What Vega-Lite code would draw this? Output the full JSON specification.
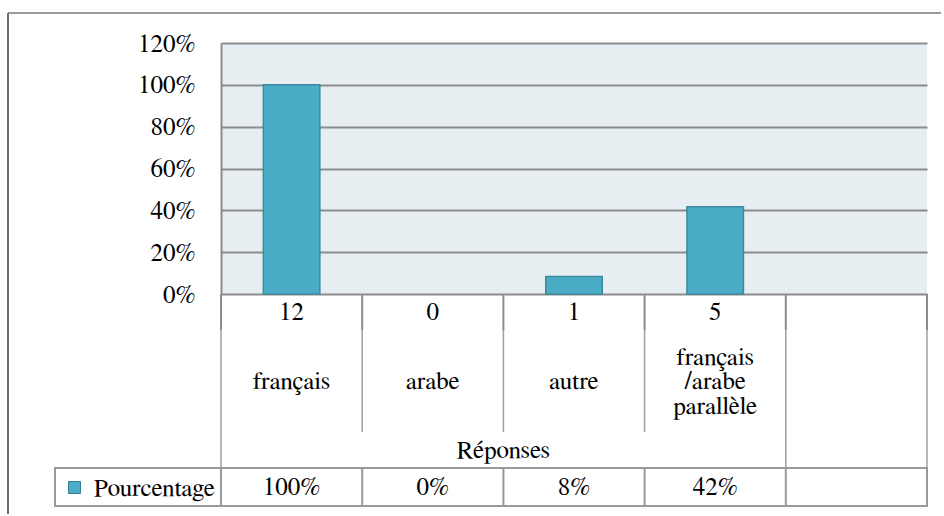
{
  "$schema": "https://vega.github.io/schema/vega-lite/v6.json",
  "padding": {"left": 7, "top": 12, "right": 0, "bottom": 0},
  "background": "white",
  "config": {
    "view": {"stroke": null},
    "font": "FreeSerif",
    "text": {"font": "FreeSerif", "fontSize": 25, "fill": "black"}
  },
  "datasets": {
    "reponses": [
      {"reponse": "français", "n": 12, "pct": 1},
      {"reponse": "arabe", "n": 0, "pct": 0},
      {"reponse": "autre", "n": 1, "pct": 0.0833},
      {"reponse": "français\n/arabe\nparallèle", "n": 5, "pct": 0.4167}
    ]
  },
  "columns": 3,
  "spacing": 0,
  "bounds": "flush",
  "align": "each",
  "resolve": {"scale": {"color": "independent"}, "legend": {"color": "independent"}},
  "concat": [
    {
      "width": 47, "height": 30,
      "data": {"values": [{}]},
      "layer": [
        {"mark": {"type": "rule", "color": "#9a9a9a", "strokeWidth": 2},
         "encoding": {"y": {"datum": 1, "type": "quantitative", "scale": {"domain": [0, 1]}, "axis": null}}},
        {"mark": {"type": "rule", "color": "#6e6e6e", "strokeWidth": 2},
         "encoding": {"x": {"datum": 0, "type": "quantitative", "scale": {"domain": [0, 1]}, "axis": null}}}
      ]
    },
    {
      "width": 166, "height": 30,
      "data": {"values": [{}]},
      "mark": {"type": "rule", "color": "#9a9a9a", "strokeWidth": 2},
      "encoding": {"y": {"datum": 1, "type": "quantitative", "scale": {"domain": [0, 1]}, "axis": null}}
    },
    {
      "width": 720, "height": 30,
      "data": {"values": [{}]},
      "mark": {"type": "rule", "color": "#9a9a9a", "strokeWidth": 2},
      "encoding": {"y": {"datum": 1, "type": "quantitative", "scale": {"domain": [0, 1]}, "axis": null}}
    },

    {
      "width": 47, "height": 251,
      "data": {"values": [{}]},
      "mark": {"type": "rule", "color": "#6e6e6e", "strokeWidth": 2},
      "encoding": {"x": {"datum": 0, "type": "quantitative", "scale": {"domain": [0, 1]}, "axis": null}}
    },
    {"width": 166, "height": 251, "data": {"values": []}, "mark": "text", "encoding": {}},
    {
      "width": 706, "height": 251,
      "data": {"name": "reponses"},
      "transform": [{"filter": "datum.pct > 0"}],
      "view": {"fill": "#e7eef2"},
      "mark": {"type": "bar", "fill": "#4bacc6", "stroke": "#3a8aa0", "strokeWidth": 1.5},
      "encoding": {
        "x": {
          "field": "reponse", "type": "nominal", "sort": null,
          "scale": {"domain": ["français", "arabe", "autre", "français\n/arabe\nparallèle", "(vide)"], "paddingInner": 0.6, "paddingOuter": 0.3},
          "axis": null
        },
        "y": {
          "field": "pct", "type": "quantitative",
          "scale": {"domain": [0, 1.2], "nice": false},
          "axis": {
            "title": null,
            "values": [0, 0.2, 0.4, 0.6, 0.8, 1, 1.2],
            "format": ".0%",
            "grid": true,
            "gridColor": "#8c8c8c",
            "gridWidth": 2,
            "domain": true,
            "domainColor": "#8c8c8c",
            "domainWidth": 2,
            "ticks": false,
            "labelPadding": 26,
            "labelFont": "FreeSerif",
            "labelFontSize": 25,
            "labelColor": "black"
          }
        }
      }
    },

    {
      "width": 47, "height": 36,
      "data": {"values": [{}]},
      "mark": {"type": "rule", "color": "#6e6e6e", "strokeWidth": 2},
      "encoding": {"x": {"datum": 0, "type": "quantitative", "scale": {"domain": [0, 1]}, "axis": null}}
    },
    {"width": 166, "height": 36, "data": {"values": []}, "mark": "text", "encoding": {}},
    {
      "width": 706, "height": 36,
      "data": {"name": "reponses"},
      "layer": [
        {
          "mark": {"type": "text", "baseline": "middle", "fontSize": 25, "fill": "black", "font": "FreeSerif"},
          "encoding": {
            "x": {"field": "reponse", "type": "nominal", "sort": null,
                  "scale": {"domain": ["français", "arabe", "autre", "français\n/arabe\nparallèle", "(vide)"], "paddingInner": 0, "paddingOuter": 0},
                  "axis": null},
            "text": {"field": "n", "type": "quantitative"}
          }
        },
        {
          "mark": {"type": "rule", "color": "#8c8c8c", "strokeWidth": 2},
          "encoding": {"x": {"field": "reponse", "type": "nominal", "bandPosition": 0}}
        },
        {
          "data": {"values": [{}]},
          "mark": {"type": "rule", "color": "#8c8c8c", "strokeWidth": 2},
          "encoding": {"x": {"datum": "(vide)", "type": "nominal", "bandPosition": 0}}
        },
        {
          "data": {"values": [{}]},
          "mark": {"type": "rule", "color": "#8c8c8c", "strokeWidth": 2},
          "encoding": {"x": {"datum": "(vide)", "type": "nominal", "bandPosition": 1}}
        }
      ]
    },

    {
      "width": 47, "height": 102,
      "data": {"values": [{}]},
      "mark": {"type": "rule", "color": "#6e6e6e", "strokeWidth": 2},
      "encoding": {"x": {"datum": 0, "type": "quantitative", "scale": {"domain": [0, 1]}, "axis": null}}
    },
    {"width": 166, "height": 102, "data": {"values": []}, "mark": "text", "encoding": {}},
    {
      "width": 706, "height": 102,
      "data": {"name": "reponses"},
      "layer": [
        {
          "transform": [{"filter": "indexof(datum.reponse, '\\n') < 0"}],
          "mark": {"type": "text", "baseline": "middle", "fontSize": 25, "fill": "black", "font": "FreeSerif"},
          "encoding": {
            "x": {"field": "reponse", "type": "nominal", "sort": null,
                  "scale": {"domain": ["français", "arabe", "autre", "français\n/arabe\nparallèle", "(vide)"], "paddingInner": 0, "paddingOuter": 0},
                  "axis": null},
            "text": {"field": "reponse", "type": "nominal"}
          }
        },
        {
          "transform": [{"filter": "indexof(datum.reponse, '\\n') >= 0"}],
          "mark": {"type": "text", "baseline": "middle", "fontSize": 25, "fill": "black", "font": "FreeSerif", "lineBreak": "\n", "lineHeight": 24.5, "dy": -24.5},
          "encoding": {
            "x": {"field": "reponse", "type": "nominal", "sort": null},
            "text": {"field": "reponse", "type": "nominal"}
          }
        },
        {
          "mark": {"type": "rule", "color": "#a0a0a0", "strokeWidth": 1.5},
          "encoding": {"x": {"field": "reponse", "type": "nominal", "bandPosition": 0}}
        },
        {
          "data": {"values": [{}]},
          "mark": {"type": "rule", "color": "#a0a0a0", "strokeWidth": 1.5},
          "encoding": {"x": {"datum": "(vide)", "type": "nominal", "bandPosition": 0}}
        },
        {
          "data": {"values": [{}]},
          "mark": {"type": "rule", "color": "#a0a0a0", "strokeWidth": 1.5},
          "encoding": {"x": {"datum": "(vide)", "type": "nominal", "bandPosition": 1}}
        }
      ]
    },

    {
      "width": 47, "height": 36,
      "data": {"values": [{}]},
      "mark": {"type": "rule", "color": "#6e6e6e", "strokeWidth": 2},
      "encoding": {"x": {"datum": 0, "type": "quantitative", "scale": {"domain": [0, 1]}, "axis": null}}
    },
    {"width": 166, "height": 36, "data": {"values": []}, "mark": "text", "encoding": {}},
    {
      "width": 706, "height": 36,
      "data": {"values": [{}]},
      "layer": [
        {
          "mark": {"type": "text", "baseline": "middle", "fontSize": 25, "fill": "black", "font": "FreeSerif"},
          "encoding": {
            "x": {"datum": "autre", "type": "nominal", "bandPosition": 0,
                  "scale": {"domain": ["français", "arabe", "autre", "français\n/arabe\nparallèle", "(vide)"], "paddingInner": 0, "paddingOuter": 0},
                  "axis": null},
            "text": {"value": "Réponses"}
          }
        },
        {
          "mark": {"type": "rule", "color": "#a0a0a0", "strokeWidth": 1.5},
          "encoding": {"x": {"datum": "français", "type": "nominal", "bandPosition": 0}}
        },
        {
          "mark": {"type": "rule", "color": "#a0a0a0", "strokeWidth": 1.5},
          "encoding": {"x": {"datum": "(vide)", "type": "nominal", "bandPosition": 0}}
        },
        {
          "mark": {"type": "rule", "color": "#a0a0a0", "strokeWidth": 1.5},
          "encoding": {"x": {"datum": "(vide)", "type": "nominal", "bandPosition": 1}}
        }
      ]
    },

    {
      "width": 47, "height": 38,
      "data": {"values": [{}]},
      "mark": {"type": "rule", "color": "#6e6e6e", "strokeWidth": 2},
      "encoding": {"x": {"datum": 0, "type": "quantitative", "scale": {"domain": [0, 1]}, "axis": null}}
    },
    {
      "width": 166, "height": 38,
      "view": {"stroke": "#999999", "strokeWidth": 2},
      "data": {"values": [{"serie": "Pourcentage"}]},
      "mark": {"type": "text"},
      "encoding": {
        "text": {"value": ""},
        "color": {
          "field": "serie",
          "type": "nominal",
          "scale": {"range": ["#4bacc6"]},
          "legend": {
            "orient": "top-left",
            "offset": 7,
            "padding": 0,
            "title": null,
            "symbolType": "square",
            "symbolSize": 144,
            "symbolStrokeColor": "#357d91",
            "symbolStrokeWidth": 1,
            "labelFont": "FreeSerif",
            "labelFontSize": 25,
            "labelColor": "black",
            "labelOffset": 7,
            "labelLimit": 300
          }
        }
      }
    },
    {
      "width": 706, "height": 38,
      "view": {"stroke": "#999999", "strokeWidth": 2},
      "data": {"name": "reponses"},
      "layer": [
        {
          "mark": {"type": "text", "baseline": "middle", "fontSize": 25, "fill": "black", "font": "FreeSerif"},
          "encoding": {
            "x": {"field": "reponse", "type": "nominal", "sort": null,
                  "scale": {"domain": ["français", "arabe", "autre", "français\n/arabe\nparallèle", "(vide)"], "paddingInner": 0, "paddingOuter": 0},
                  "axis": null},
            "text": {"field": "pct", "type": "quantitative", "format": ".0%"}
          }
        },
        {
          "mark": {"type": "rule", "color": "#999999", "strokeWidth": 2},
          "encoding": {"x": {"field": "reponse", "type": "nominal", "bandPosition": 0}}
        },
        {
          "data": {"values": [{}]},
          "mark": {"type": "rule", "color": "#999999", "strokeWidth": 2},
          "encoding": {"x": {"datum": "(vide)", "type": "nominal", "bandPosition": 0}}
        }
      ]
    },

    {
      "width": 47, "height": 8,
      "data": {"values": [{}]},
      "mark": {"type": "rule", "color": "#6e6e6e", "strokeWidth": 2},
      "encoding": {"x": {"datum": 0, "type": "quantitative", "scale": {"domain": [0, 1]}, "axis": null}}
    },
    {"width": 166, "height": 8, "data": {"values": []}, "mark": "text", "encoding": {}},
    {"width": 706, "height": 8, "data": {"values": []}, "mark": "text", "encoding": {}}
  ]
}
